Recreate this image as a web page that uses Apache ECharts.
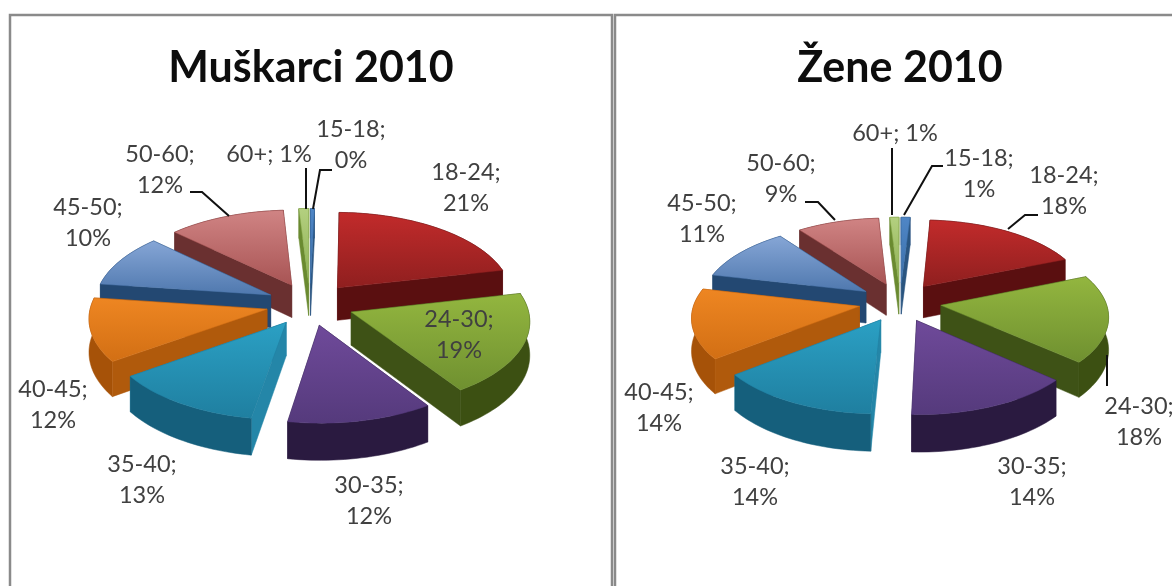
<!DOCTYPE html>
<html>
<head>
<meta charset="utf-8">
<style>html,body{margin:0;padding:0;background:#fff}#c{width:1172px;height:586px}</style>
<script src="https://cdn.jsdelivr.net/npm/echarts@6/dist/echarts.min.js"></script>
</head>
<body>
<div id="c"></div>
<script>
// --- data (slice sizes estimated; labels show rounded percentages) ---
const categories = ['15-18','18-24','24-30','30-35','35-40','40-45','45-50','50-60','60+'];
const menValues   = [0.4, 21.2, 19.3, 12, 12.6, 12, 10, 12, 1];
const womenValues = [1, 17.8, 17.8, 14, 13.8, 14.2, 11.2, 9.2, 1];
const chartTitles = ['Muškarci 2010', 'Žene 2010'];

// --- styling and layout ---
const topColors = [
  ['#4f86c6','#3a6ea8'],['#c22b2b','#8f1f1f'],['#93b63f','#6f9030'],['#6f4a9a','#553a7c'],
  ['#2ba0c4','#1f7fa0'],['#ee8622','#d26f14'],['#86a6d6','#4f78ae'],['#d08484','#a85454'],['#b4d080','#8cae50']
];
const wallColors = ['#2a5580','#5c0f10','#3c5012','#2a1a40','#155f7c','#a65208','#1f3f68','#5e2a2a','#6a8a30'];
const sideColors = ['#2a5580','#5a0f10','#3e5216','#2e1d46','#2486a8','#b05a0c','#234872','#6a3030','#6a8a30'];
const menGeo   = {cx:310, cy:304, rx:176, ry:85, p:0.09, e:0.25, d:33};
const womenGeo = {cx:900, cy:302, rx:165, ry:78, p:0.12, e:0.25, d:32};
const menLabelAt = [[351,145],[466,188],[459,335],[369,501],[142,480],[53,405],[88,223],[160,170],[269,154]];
const womenLabelAt = [[979,174],[1064,191],[1139,422],[1032,482],[755,482],[659,408],[702,219],[781,179],[895,133]];
const menLeaders = [[[332,170],[320,170],[313,209]],null,null,null,null,null,null,[[190,192],[202,192],[229,216]],[[306,168],[306,209]]];
const womenLeaders = [[[943,166],[932,166],[904,215]],[[1038,215],[1025,215],[1008,229]],[[1107,355],[1107,386]],null,null,null,null,[[805,202],[818,202],[835,220]],[[892,148],[892,215]]];
const labelFont = 'Lato, "Open Sans", sans-serif';

function makeRenderItem(values, g, labelAt, leaders) {
  const total = values.reduce((a, b) => a + b, 0);
  const TAU = Math.PI * 2;
  const starts = [];
  let acc = 0;
  values.forEach(v => { starts.push(acc); acc += v; });
  // back-to-front paint order
  const depth = values.map((v, i) => -Math.cos((starts[i] + v / 2) / total * TAU));
  const rank = depth.map(d => depth.filter(x => x < d).length);

  return function (params, api) {
    const i = params.dataIndex;
    const val = api.value(0);
    const a0 = starts[i] / total * TAU, a1 = (starts[i] + val) / total * TAU, mid = (a0 + a1) / 2;
    const ox = g.e * Math.sin(mid), oy = -g.e * Math.cos(mid);
    const proj = (u, v, z) => {
      const f = 1 / (1 - g.p * v);
      return [g.cx + g.rx * u * f, g.cy + g.ry * v * f + g.d * f * z];
    };
    const steps = Math.max(2, Math.ceil((a1 - a0) / 0.03));
    const arc = [];
    for (let s = 0; s <= steps; s++) {
      const a = a0 + (a1 - a0) * s / steps;
      arc.push([Math.sin(a) + ox, -Math.cos(a) + oy]);
    }
    const apex = [ox, oy];
    const P = (pt, z) => proj(pt[0], pt[1], z);
    const first = arc[0], last = arc[arc.length - 1];
    const faces = [
      {pts:[P(apex,0),P(first,0),P(first,1),P(apex,1)], depth:(apex[1]+first[1])/2, color:sideColors[i]},
      {pts:[P(apex,0),P(last,0),P(last,1),P(apex,1)], depth:(apex[1]+last[1])/2, color:sideColors[i]},
      {pts:arc.map(p=>P(p,0)).concat(arc.slice().reverse().map(p=>P(p,1))),
       depth:arc.reduce((s,p)=>s+p[1],0)/arc.length, color:wallColors[i]}
    ].sort((a,b)=>a.depth-b.depth);

    const base = 10 + rank[i] * 10;
    const children = faces.map((f,k)=>({
      type:'polygon', z2:base+k, shape:{points:f.pts},
      style:{fill:f.color, stroke:f.color, lineWidth:0.5}
    }));
    children.push({
      type:'polygon', z2:base+5, shape:{points:[P(apex,0)].concat(arc.map(p=>P(p,0)))},
      style:{fill:new echarts.graphic.LinearGradient(0,0,0,1,[
        {offset:0,color:topColors[i][0]},{offset:1,color:topColors[i][1]}]),
        stroke:topColors[i][1], lineWidth:0.5}
    });
    if (leaders[i]) {
      children.push({type:'polyline', z2:900, shape:{points:leaders[i]},
        style:{fill:null, stroke:'#111', lineWidth:2}});
    }
    const name = categories[i], pct = Math.round(val) + '%';
    const txt = name === '60+' ? name + '; ' + pct : name + ';\n' + pct;
    children.push({type:'text', z2:1000, x:labelAt[i][0], y:labelAt[i][1],
      style:{text:txt, fill:'#404040', font:'23.5px ' + labelFont, lineHeight:31,
        align:'center', verticalAlign:'middle'}});
    return {type:'group', children};
  };
}

const toData = vals => categories.map((c,i)=>({name:c, value:vals[i]}));
const chart = echarts.init(document.getElementById('c'), null, {renderer:'canvas'});
chart.setOption({
  animation:false,
  backgroundColor:'#fff',
  title:[
    {text:chartTitles[0], left:311, top:68, padding:0, textAlign:'center', textVerticalAlign:'middle',
     textStyle:{fontFamily:labelFont, fontWeight:'bold', fontSize:43, color:'#0d0d0d'}},
    {text:chartTitles[1], left:900, top:68, padding:0, textAlign:'center', textVerticalAlign:'middle',
     textStyle:{fontFamily:labelFont, fontWeight:'bold', fontSize:43, color:'#0d0d0d'}}
  ],
  graphic:[
    {type:'rect', silent:true, z:-1, shape:{x:10,y:15,width:602,height:620}, style:{fill:'#fff',stroke:'#8a8a8a',lineWidth:2.5}},
    {type:'rect', silent:true, z:-1, shape:{x:615,y:15,width:620,height:620}, style:{fill:'#fff',stroke:'#8a8a8a',lineWidth:2.5}}
  ],
  series:[
    {type:'custom', name:chartTitles[0], coordinateSystem:'none', clip:false, silent:true,
     renderItem:makeRenderItem(menValues, menGeo, menLabelAt, menLeaders), data:toData(menValues)},
    {type:'custom', name:chartTitles[1], coordinateSystem:'none', clip:false, silent:true,
     renderItem:makeRenderItem(womenValues, womenGeo, womenLabelAt, womenLeaders), data:toData(womenValues)}
  ]
});
</script>
</body>
</html>
